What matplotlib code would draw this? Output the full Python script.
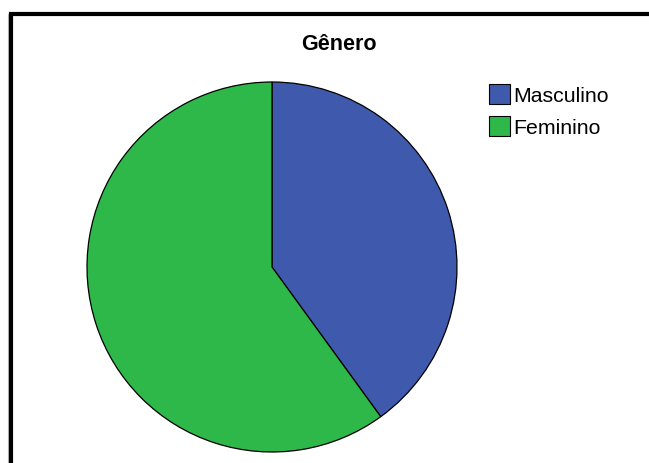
import matplotlib
matplotlib.use("Agg")
import matplotlib.pyplot as plt
from matplotlib.patches import Rectangle

labels = ["Masculino", "Feminino"]
values = [40, 60]
colors = ["#3F5AAD", "#2EB84A"]
title = "Gênero"

W, H = 649, 464
fig = plt.figure(figsize=(W / 100, H / 100), dpi=100)
plt.rcParams['font.family'] = ['Liberation Sans', 'DejaVu Sans']

# pie axes: center (272,268), radius 185 px
cx, cy, r = 272, 268, 185
ax = fig.add_axes([(cx - r) / W, (H - cy - r) / H, 2 * r / W, 2 * r / H])
wedges, _ = ax.pie(values, colors=colors, startangle=90, counterclock=False,
                   wedgeprops=dict(edgecolor="black", linewidth=0.9))
for w in wedges:
    w.set_clip_on(False)
ax.set_xlim(-1, 1)
ax.set_ylim(-1, 1)
ax.set_aspect("equal")
ax.axis("off")

fig.text(339 / W, 1 - 45 / H, title, ha="center", va="center",
         fontsize=15.5, fontweight="bold")

leg = fig.legend(wedges, labels, loc="upper left",
                 bbox_to_anchor=(489 / W, 1 - 85 / H), borderaxespad=0,
                 borderpad=0, frameon=False, fontsize=15.3,
                 handlelength=1.0, handleheight=1.1, handletextpad=0.12,
                 labelspacing=0.48)
for h in leg.legend_handles:
    h.set_edgecolor("black")
    h.set_linewidth(0.8)

# outer frame (extends beyond right/bottom)
fig.patches.append(Rectangle((8 / W, -0.1), 1.2, 1 - 15 / H + 0.1 + 0.0,
                             transform=fig.transFigure, fill=False,
                             edgecolor="#bbbbbb", linewidth=0.8))
fig.patches.append(Rectangle((11 / W, -0.1), 1.2, 1 - 15 / H + 0.1,
                             transform=fig.transFigure, fill=False,
                             edgecolor="black", linewidth=3.0))

fig.savefig("out.png", dpi=100)
